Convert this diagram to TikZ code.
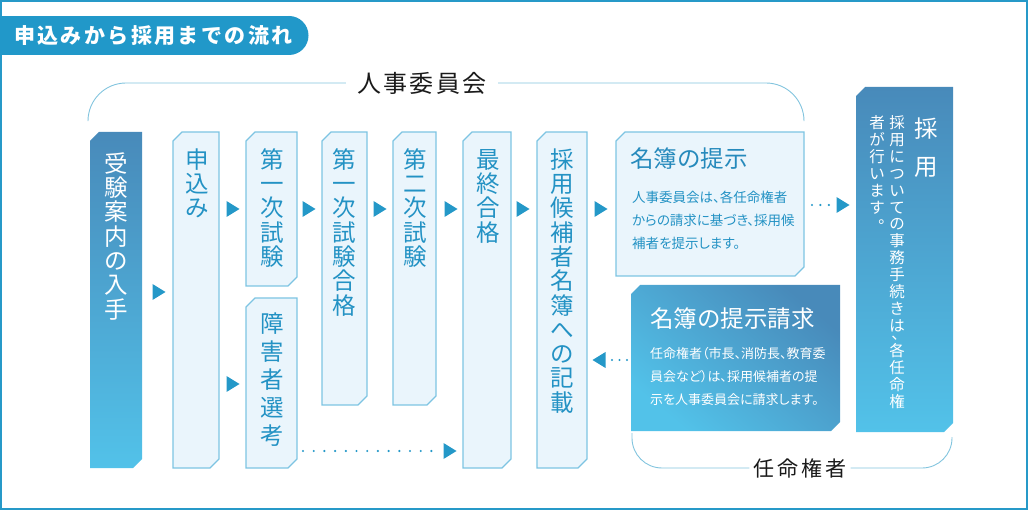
\documentclass[tikz,border=0pt]{standalone}
\usepackage{fontspec}
\usetikzlibrary{shapes.geometric}
\newfontfamily\jp{Noto Sans CJK JP}
\newfontfamily\jpp[RawFeature=+palt]{Noto Sans CJK JP}
\definecolor{framec}{RGB}{38,153,200}
\definecolor{tabc}{RGB}{33,152,201}
\definecolor{trib}{RGB}{36,152,200}
\definecolor{lfill}{RGB}{234,245,252}
\definecolor{lbord}{RGB}{125,196,226}
\definecolor{ltext}{RGB}{35,146,196}
\definecolor{ltitle}{RGB}{38,138,188}
\definecolor{dtop}{RGB}{72,138,186}
\definecolor{dbot}{RGB}{82,194,233}
\definecolor{brc}{RGB}{130,196,222}
\definecolor{labc}{RGB}{26,26,26}

\newdimen\vpitch
\newdimen\spk
\newcommand\vcell[1]{\hbox to 1em{\vrule width 0pt height \dimexpr0.5\vpitch+0.38em\relax depth \dimexpr0.5\vpitch-0.38em\relax\hss\smash{#1}\hss}}
\newcommand\vhcell[1]{\hbox to 1em{\vrule width 0pt height \dimexpr0.25\vpitch+0.08em\relax depth \dimexpr0.25\vpitch-0.08em\relax\hss\smash{#1}\hss}}
\newcommand\vpc{\makebox[1em][l]{\kern0.13em 、}}
\newcommand\vps{\makebox[1em][l]{\kern0.59em\raisebox{0.42em}{。}}}
\def\vdo#1{\ifx\vpc#1\vhcell{#1}\else\vcell{#1}\fi}
\def\vloop#1{\ifx\relax#1\else\vdo{#1}\expandafter\vloop\fi}
\newcommand\vstack[2]{\vpitch=#1\relax\vbox{\offinterlineskip\vloop#2\relax}}
\def\spaced#1#2{\spk=#1\relax\spfirst#2\relax}
\def\spfirst#1{#1\sploop}
\def\sploop#1{\ifx\relax#1\else\kern\spk#1\expandafter\sploop\fi}

% chamfered box: style, name, x1, y1, x2, y2
\newcommand\chbox[6]{%
  \node[anchorbox, minimum width={#5-#3}, minimum height={#6-#4}] (#2) at ({(#3+#5)/2},{(#4+#6)/2}) {};
  \path[#1] ([xshift=9pt]#2.north west) -- (#2.north east) -- ([yshift=9pt]#2.south east)
    -- ([xshift=-9pt]#2.south east) -- (#2.south west) -- ([yshift=-9pt]#2.north west) -- cycle;}

\begin{document}
\begin{tikzpicture}[x=1pt,y=-1pt,
  anchorbox/.style={rectangle, inner sep=0pt, outer sep=0pt},
  lightbox/.style={fill=lfill, draw=lbord, line width=1.1pt},
  darkbox/.style={top color=dtop, bottom color=dbot},
  darkdiag/.style={top color=dtop, bottom color=dbot, shading angle=-40},
  vt/.style={inner sep=0pt, anchor=north, text=ltext, font=\jp\fontsize{23.5}{24}\selectfont},
  vtw/.style={inner sep=0pt, anchor=north, text=white, font=\jp\fontsize{23.5}{24}\selectfont},
  tri/.style={rectangle, inner sep=0pt, outer sep=0pt, minimum width=13pt, minimum height=16pt,
    path picture={\fill[trib] (path picture bounding box.north west) -- (path picture bounding box.east) -- (path picture bounding box.south west) -- cycle;}},
  trileft/.style={rectangle, inner sep=0pt, outer sep=0pt, minimum width=13pt, minimum height=16pt,
    path picture={\fill[trib] (path picture bounding box.north east) -- (path picture bounding box.west) -- (path picture bounding box.south east) -- cycle;}},
  dotline/.style={draw=trib, line width=2.4pt, line cap=round},
  brline/.style={draw=brc, line width=0.9pt},
  brlabel/.style={text=labc, inner ysep=0pt},
  boxtitle/.style={inner sep=0pt, anchor=west, font=\jp\fontsize{23.5}{26}\selectfont},
  boxbody/.style={inner sep=0pt, anchor=north west, align=left}
]
\useasboundingbox (0,0) rectangle (1028,510);
\draw[framec, line width=2pt] (1,1) rectangle (1027,509);

% title tab
\fill[tabc] (0,16) rectangle (289,55);
\fill[tabc] (289,35.5) circle[radius=19.5pt];
\node[inner sep=0pt, anchor=west, text=white, font=\jp\bfseries\fontsize{21}{24}\selectfont] (title) at (14,36) {\spaced{2.4pt}{申込みから採用までの流れ}};

% boxes
\chbox{darkbox}{b1}{90}{132}{142}{468}
\chbox{lightbox}{b2}{173}{132}{219}{468}
\chbox{lightbox}{b3}{246}{132}{297}{286}
\chbox{lightbox}{b4}{246}{298}{297}{468}
\chbox{lightbox}{b5}{322}{132}{367}{405}
\chbox{lightbox}{b6}{393}{132}{436}{405}
\chbox{lightbox}{b7}{463}{132}{511}{468}
\chbox{lightbox}{b8}{537}{132}{587}{468}
\chbox{lightbox}{b9}{616}{132}{804}{276}
\chbox{darkdiag}{b10}{631}{285}{840}{431}
\chbox{darkbox}{b11}{856}{87}{953}{432}

% vertical texts
\node[vtw] (t1) at (116,151) {\vstack{24.3pt}{受験案内の入手}};
\node[vt] (t2) at (197,147) {\vstack{24.3pt}{申込み}};
\node[vt] (t3) at (272,147) {\vstack{24.3pt}{第一次試験}};
\node[vt] (t4) at (272,309) {\vstack{28pt}{障害者選考}};
\node[vt] (t5) at (344,147) {\vstack{24.3pt}{第一次試験合格}};
\node[vt] (t6) at (415,147) {\vstack{24.3pt}{第二次試験}};
\node[vt] (t7) at (488,147) {\vstack{24.3pt}{最終合格}};
\node[vt] (t8) at (562,147) {\vstack{24.3pt}{採用候補者名簿への記載}};

% box 9
\node[boxtitle, text=ltitle] (t9h) at (630,159) {名簿の提示};
\node[boxbody, text=ltext, font=\jpp\fontsize{13.5}{23}\selectfont] (t9b) at (632,191) {人事委員会は、各任命権者\\からの請求に基づき、採用候\\補者を提示します。};
% box 10
\node[boxtitle, text=white] (t10h) at (650,319) {名簿の提示請求};
\node[boxbody, text=white, font=\jpp\fontsize{13}{23}\selectfont] (t10b) at (650,347.5) {任命権者（市長、消防長、教育委\\員会など）は、採用候補者の提\\示を人事委員会に請求します。};
% box 11
\node[vtw] (t11h) at (926,109) {\vstack{38pt}{採用}};
\node[inner sep=0pt, anchor=north, text=white, font=\jp\fontsize{15.5}{16}\selectfont] (t11a) at (897,114) {\vstack{16.9pt}{採用についての事務手続きは\vpc 各任命権}};
\node[inner sep=0pt, anchor=north, text=white, font=\jp\fontsize{15.5}{16}\selectfont] (t11b) at (877,114) {\vstack{16.9pt}{者が行います\vps}};

% triangles
\node[tri] (a1) at (159,292) {};
\node[tri] (a2) at (233,209) {};
\node[tri] (a3) at (233,384) {};
\node[tri] (a4) at (309,209) {};
\node[tri] (a5) at (380,209) {};
\node[tri] (a6) at (451,209) {};
\node[tri] (a7) at (523,209) {};
\node[tri] (a8) at (601,209) {};
\node[tri] (a9) at (450,451) {};
\node[trileft] (a10) at (599,360) {};
\node[tri] (a11) at (843,205) {};

% dotted connectors
\draw[dotline, dash pattern=on 0pt off 10.7pt, shorten <=6pt, shorten >=10pt] (b4.east |- a9) -- (a9.west);
\draw[dotline, dash pattern=on 0pt off 8.4pt, shorten <=8pt, shorten >=7pt] (b9.east |- a11) -- (a11.west);
\draw[dotline, dash pattern=on 0pt off 7.5pt, shorten <=4pt, shorten >=5.5pt] (b10.west |- a10) -- (a10.east);

% brackets
\node[brlabel, inner xsep=11pt, font=\jp\fontsize{24}{26}\selectfont] (jinji) at (422,83) {\spaced{2.5pt}{人事委員会}};
\coordinate (jl) at ([xshift=-2pt,yshift=12pt]b1.north west);
\coordinate (jr) at ([yshift=12pt]b9.north east);
\draw[brline, rounded corners=38pt] (jinji.west) -| (jl);
\draw[brline, rounded corners=38pt] (jinji.east) -| (jr);

\node[brlabel, inner xsep=4pt, font=\jp\fontsize{21}{24}\selectfont] (ninmei) at (800,468) {\spaced{3pt}{任命権者}};
\coordinate (nl) at ([xshift=1pt,yshift=-2pt]b10.south west);
\coordinate (nr) at ([xshift=-1pt,yshift=-5pt]b11.south east);
\draw[brline, rounded corners=30pt] (nl) |- (ninmei.west);
\draw[brline, rounded corners=30pt] (ninmei.east) -| (nr);
\end{tikzpicture}
\end{document}
